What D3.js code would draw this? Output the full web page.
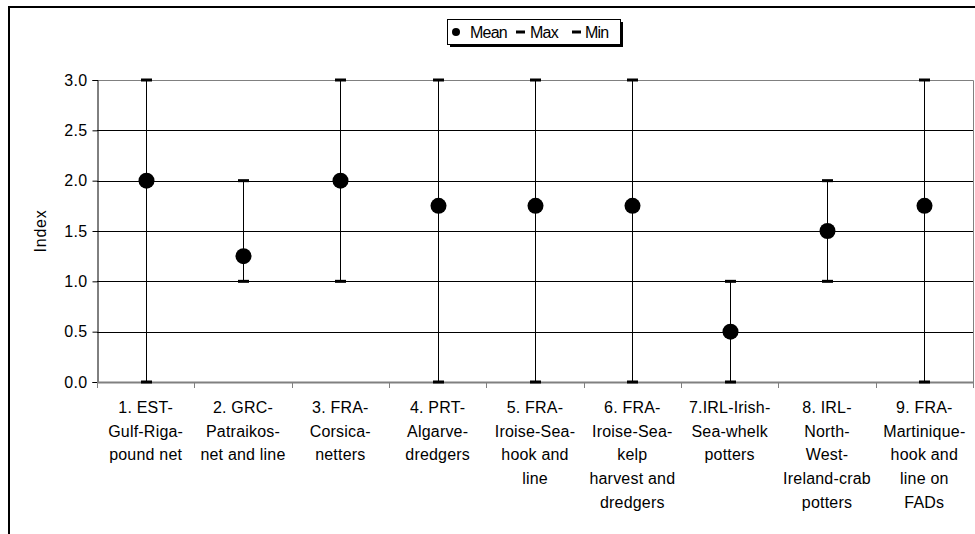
<!DOCTYPE html>
<html>
<head>
<meta charset="utf-8">
<script src="https://cdn.jsdelivr.net/npm/d3@7"></script>
<style>
  html, body { margin: 0; padding: 0; background: #fff; }
  svg { display: block; }
  text { font-family: "Liberation Sans", Arial, sans-serif; fill: #000; }
</style>
</head>
<body>
<svg id="chart" width="975" height="534"></svg>
<script>
// ---- data ----
const categories = [
  "1. EST-|Gulf-Riga-|pound net",
  "2. GRC-|Patraikos-|net and line",
  "3. FRA-|Corsica-|netters",
  "4. PRT-|Algarve-|dredgers",
  "5. FRA-|Iroise-Sea-|hook and|line",
  "6. FRA-|Iroise-Sea-|kelp|harvest and|dredgers",
  "7.IRL-Irish-|Sea-whelk|potters",
  "8. IRL-|North-|West-|Ireland-crab|potters",
  "9. FRA-|Martinique-|hook and|line on|FADs"
];
const meanValues = [2.0, 1.25, 2.0, 1.75, 1.75, 1.75, 0.5, 1.5, 1.75];
const maxValues  = [3, 2, 3, 3, 3, 3, 1, 2, 3];
const minValues  = [0, 1, 1, 0, 0, 0, 0, 1, 0];
const yTicks = [0, 0.5, 1.0, 1.5, 2.0, 2.5, 3.0];
const legendItems = ["Mean", "Max", "Min"];
const yTitle = "Index";

// ---- layout ----
const svg = d3.select("#chart");
const plot = { left: 97, right: 973, top: 80, bottom: 382 };

// outer frame
svg.append("rect")
  .attr("x", 9).attr("y", 7).attr("width", 980).attr("height", 540)
  .attr("fill", "none").attr("stroke", "#000").attr("stroke-width", 2);

const x = d3.scaleBand().domain(categories).range([plot.left, plot.right]).padding(0);
const y = d3.scaleLinear().domain([0, 3]).range([plot.bottom, plot.top]);

// gridlines
svg.append("g").selectAll("line").data(yTicks.filter(d => d > 0 && d < 3)).join("line")
  .attr("x1", plot.left).attr("x2", plot.right)
  .attr("y1", d => Math.round(y(d)) + 0.5).attr("y2", d => Math.round(y(d)) + 0.5)
  .attr("stroke", "#000").attr("stroke-width", 1);

// plot border top and right (gray)
svg.append("path")
  .attr("d", `M${plot.left},${Math.round(y(3)) + 0.5}H${plot.right + 0.5}V${plot.bottom}`)
  .attr("fill", "none").attr("stroke", "#808080").attr("stroke-width", 1);

// y axis
const yAxis = d3.axisLeft(y).tickValues(yTicks).tickFormat(d3.format(".1f")).tickSize(5).tickPadding(5);
const gy = svg.append("g").attr("transform", `translate(${plot.left + 0.5},0)`).call(yAxis);
gy.select(".domain").attr("stroke", "#000");
gy.selectAll(".tick line").attr("stroke", "#000");
gy.selectAll(".tick text").attr("font-size", 16).attr("font-family", "Liberation Sans, Arial, sans-serif")
  .attr("letter-spacing", "0.3px");

// x axis
const xAxis = d3.axisBottom(x).tickSize(0).tickFormat("");
const gx = svg.append("g").attr("transform", `translate(0,${plot.bottom})`).call(xAxis);
gx.select(".domain").attr("stroke", "#808080").attr("stroke-width", 2);
// boundary ticks
const bounds = categories.map(c => x(c)).concat([plot.right]);
gx.selectAll(".btick").data(bounds).join("line").attr("class", "btick")
  .attr("x1", d => Math.round(d) + 0.5).attr("x2", d => Math.round(d) + 0.5)
  .attr("y1", 0).attr("y2", 6).attr("stroke", "#808080").attr("stroke-width", 1);

// category labels
const lab = svg.append("g").selectAll("text").data(categories).join("text")
  .attr("x", d => x(d) + x.bandwidth() / 2)
  .attr("y", 413)
  .attr("text-anchor", "middle")
  .attr("font-size", 16)
  .attr("letter-spacing", "0.2px");
lab.selectAll("tspan").data(d => d.split("|")).join("tspan")
  .attr("x", function() { return d3.select(this.parentNode).attr("x"); })
  .attr("dy", (d, i) => i === 0 ? 0 : 23.7)
  .text(d => d);

// y title
svg.append("text")
  .attr("transform", `translate(46,${(plot.top + plot.bottom) / 2}) rotate(-90)`)
  .attr("text-anchor", "middle")
  .attr("font-size", 16)
  .attr("letter-spacing", "0.8px")
  .text(yTitle);

// error bars
const cx = d => x(d) + x.bandwidth() / 2;
const g = svg.append("g");
g.selectAll(".whisker").data(categories).join("line").attr("class", "whisker")
  .attr("x1", (d) => Math.round(cx(d)) + 0.5).attr("x2", (d) => Math.round(cx(d)) + 0.5)
  .attr("y1", (d, i) => y(maxValues[i])).attr("y2", (d, i) => y(minValues[i]))
  .attr("stroke", "#000").attr("stroke-width", 1);
g.selectAll(".capmax").data(categories).join("rect").attr("class", "capmax")
  .attr("x", d => Math.round(cx(d)) - 5).attr("width", 11)
  .attr("y", (d, i) => y(maxValues[i]) - 1.5).attr("height", 3).attr("fill", "#000");
g.selectAll(".capmin").data(categories).join("rect").attr("class", "capmin")
  .attr("x", d => Math.round(cx(d)) - 5).attr("width", 11)
  .attr("y", (d, i) => y(minValues[i]) - 1.5).attr("height", 3).attr("fill", "#000");
g.selectAll(".mean").data(categories).join("circle").attr("class", "mean")
  .attr("cx", d => Math.round(cx(d)) + 0.5)
  .attr("cy", (d, i) => y(meanValues[i]))
  .attr("r", 8).attr("fill", "#000");

// legend
const lg = svg.append("g");
lg.append("rect").attr("x", 450).attr("y", 22).attr("width", 173).attr("height", 25).attr("fill", "#000");
lg.append("rect").attr("x", 447.5).attr("y", 19.5).attr("width", 173).attr("height", 25)
  .attr("fill", "#fff").attr("stroke", "#000").attr("stroke-width", 1);
const legX = [470, 530, 585];
lg.append("circle").attr("cx", 456).attr("cy", 32).attr("r", 4).attr("fill", "#000");
lg.append("rect").attr("x", 516).attr("y", 30.5).attr("width", 9).attr("height", 3).attr("fill", "#000");
lg.append("rect").attr("x", 572).attr("y", 30.5).attr("width", 9).attr("height", 3).attr("fill", "#000");
lg.selectAll("text.leg").data(legendItems).join("text").attr("class", "leg")
  .attr("x", (d, i) => legX[i]).attr("y", 38)
  .attr("font-size", 16).attr("letter-spacing", "-0.8px")
  .text(d => d);
</script>
</body>
</html>
